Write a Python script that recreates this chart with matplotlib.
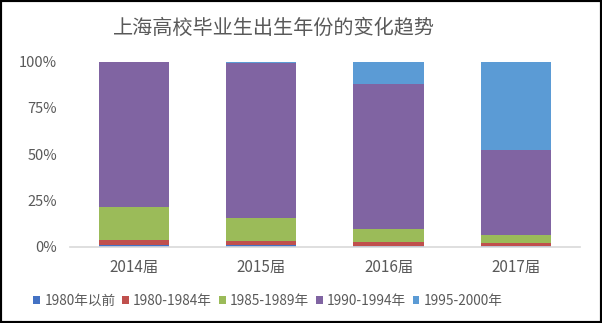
import matplotlib
matplotlib.use("Agg")
import matplotlib.pyplot as plt
from matplotlib.patches import Patch, Rectangle
from matplotlib.ticker import FuncFormatter
import numpy as np

plt.rcParams['font.family'] = ['Noto Sans CJK SC', 'DejaVu Sans']

title = "上海高校毕业生出生年份的变化趋势"
categories = ["2014届", "2015届", "2016届", "2017届"]
series_names = ["1980年以前", "1980-1984年", "1985-1989年", "1990-1994年", "1995-2000年"]
s1980_before = [1.0, 0.9, 0.2, 0.2]
s1980_1984 = [2.6, 2.2, 2.3, 1.6]
s1985_1989 = [17.7, 12.4, 7.0, 4.5]
s1990_1994 = [78.7, 83.6, 78.6, 46.1]
s1995_2000 = [0.0, 0.9, 11.9, 47.6]
y_ticks = [0, 25, 50, 75, 100]

series = [s1980_before, s1980_1984, s1985_1989, s1990_1994, s1995_2000]
colors = ["#4472C4", "#C0504D", "#9BBB59", "#8064A2", "#5B9BD5"]

fig = plt.figure(figsize=(6.02, 3.23), dpi=100)
ax = fig.add_axes([0.116, 0.236, 0.847, 0.573])

x = np.arange(len(categories))
bottom = np.zeros(len(categories))
for vals, c, name in zip(series, colors, series_names):
    v = np.array(vals)
    ax.bar(x, v, 0.55, bottom=bottom, color=c, label=name, linewidth=0)
    bottom += v

ax.set_xlim(-0.5, 3.5)
ax.set_ylim(0, 100)
ax.set_yticks(y_ticks)
ax.yaxis.set_major_formatter(FuncFormatter(lambda v, p: f"{int(v)}%"))
ax.set_xticks(x)
ax.set_xticklabels(categories)
for s in ["top", "right", "left"]:
    ax.spines[s].set_visible(False)
ax.spines["bottom"].set_color("#D9D9D9")
ax.spines["bottom"].set_linewidth(1.2)
ax.tick_params(axis="y", length=0, pad=9, labelsize=10.5, labelcolor="#595959")
ax.tick_params(axis="x", length=0, pad=9, labelsize=11, labelcolor="#595959")

fig.text(0.455, 0.913, title, ha="center", va="center", fontsize=14.5, color="#595959")

handles = [Patch(facecolor=c, edgecolor="none") for c in colors]
leg = fig.legend(handles, series_names, loc="center", bbox_to_anchor=(0.445, 0.068),
                 ncol=5, frameon=False, fontsize=9.8, handlelength=0.5, handleheight=0.5,
                 handletextpad=0.3, columnspacing=0.5, borderaxespad=0)
for t in leg.get_texts():
    t.set_color("#595959")

fig.patches.append(Rectangle((0, 0), 1, 1, transform=fig.transFigure, fill=False,
                             edgecolor="black", linewidth=3, zorder=10))

fig.savefig("out.png", dpi=100)
